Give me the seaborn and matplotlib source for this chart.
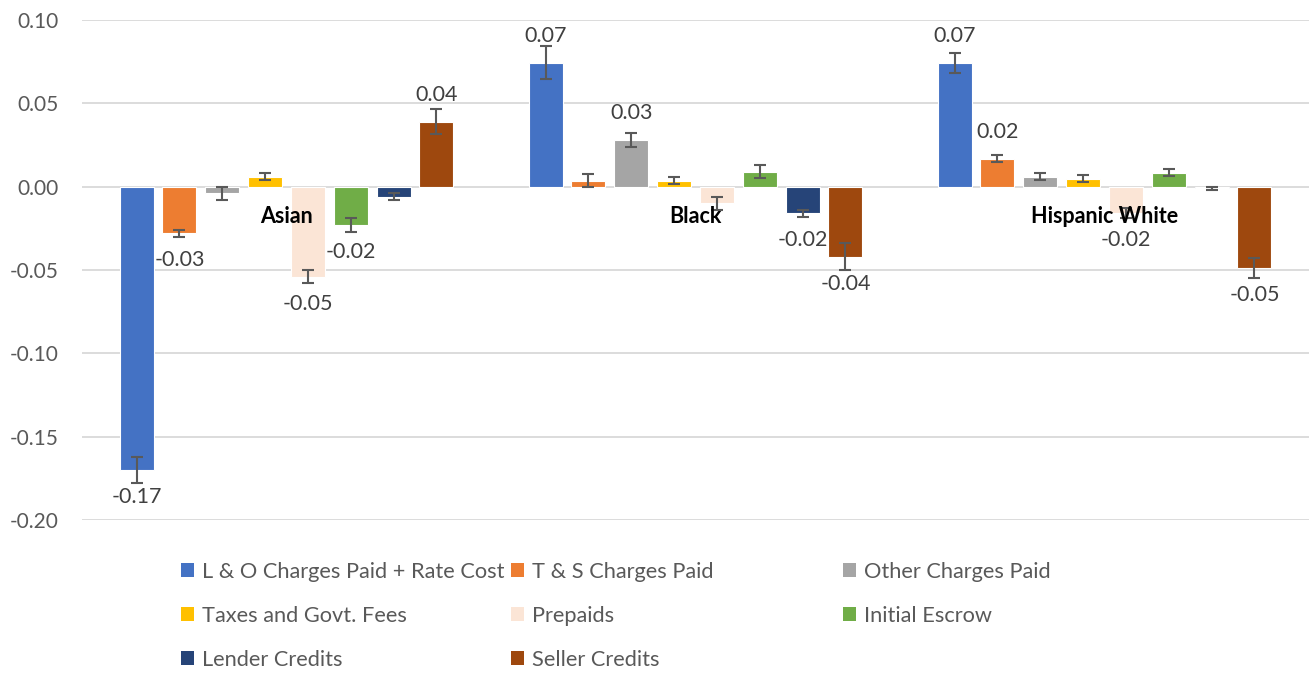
import numpy as np
import pandas as pd
import matplotlib
matplotlib.use("Agg")
import matplotlib.pyplot as plt
import seaborn as sns
from matplotlib.patches import Patch
from matplotlib.ticker import FuncFormatter

groups = ["Asian", "Black", "Hispanic White"]
series = [
    "L & O Charges Paid + Rate Cost",
    "T & S Charges Paid",
    "Other Charges Paid",
    "Taxes and Govt. Fees",
    "Prepaids",
    "Initial Escrow",
    "Lender Credits",
    "Seller Credits",
]
colors = ["#4472C4", "#ED7D31", "#A5A5A5", "#FFC000",
          "#FBE5D6", "#70AD47", "#264478", "#9E480E"]

# values per group (Asian, Black, Hispanic White)
lo_rate = [-0.170, 0.0744, 0.0744]
ts_charges = [-0.028, 0.0036, 0.0168]
other_charges = [-0.004, 0.028, 0.006]
taxes_fees = [0.006, 0.0036, 0.0048]
prepaids = [-0.054, -0.010, -0.016]
escrow = [-0.023, 0.009, 0.0084]
lender_credits = [-0.006, -0.016, -0.001]
seller_credits = [0.039, -0.042, -0.0486]

# half-width of error bars
lo_rate_err = [0.008, 0.010, 0.006]
ts_charges_err = [0.002, 0.004, 0.002]
other_charges_err = [0.004, 0.004, 0.002]
taxes_fees_err = [0.002, 0.002, 0.002]
prepaids_err = [0.004, 0.004, 0.003]
escrow_err = [0.004, 0.004, 0.002]
lender_credits_err = [0.002, 0.002, 0.001]
seller_credits_err = [0.0075, 0.008, 0.006]

# which bars carry a data label
lo_rate_lbl = [True, True, True]
ts_charges_lbl = [True, False, True]
other_charges_lbl = [False, True, False]
taxes_fees_lbl = [False, False, False]
prepaids_lbl = [True, False, True]
escrow_lbl = [True, False, False]
lender_credits_lbl = [False, True, False]
seller_credits_lbl = [True, True, True]

values = [lo_rate, ts_charges, other_charges, taxes_fees,
          prepaids, escrow, lender_credits, seller_credits]
errors = [lo_rate_err, ts_charges_err, other_charges_err, taxes_fees_err,
          prepaids_err, escrow_err, lender_credits_err, seller_credits_err]
show_lbl = [lo_rate_lbl, ts_charges_lbl, other_charges_lbl, taxes_fees_lbl,
            prepaids_lbl, escrow_lbl, lender_credits_lbl, seller_credits_lbl]

rows = []
for s, vals in zip(series, values):
    for g, v in zip(groups, vals):
        rows.append({"group": g, "series": s, "value": v})
df = pd.DataFrame(rows)

sns.set_style("white")
plt.rcParams["font.family"] = ["Lato", "DejaVu Sans"]

text_gray = "#595959"
fig = plt.figure(figsize=(13.09, 6.75), dpi=100)
ax = fig.add_axes([82 / 1309, 155 / 675, 1227 / 1309, 500 / 675])

sns.barplot(data=df, x="group", y="value", hue="series", hue_order=series,
            order=groups, palette=colors, saturation=1, errorbar=None,
            width=0.838, gap=0.207, edgecolor="white", linewidth=0.8,
            legend=False, ax=ax, zorder=2)

bar_containers = list(ax.containers)
for i, container in enumerate(bar_containers):
    for j, bar in enumerate(container):
        xc = bar.get_x() + bar.get_width() / 2
        v = values[i][j]
        ax.errorbar(xc, v, yerr=errors[i][j], color=text_gray, lw=1.5,
                    capsize=4.5, capthick=1.5, zorder=3)
        if show_lbl[i][j]:
            off = 19.5 if v > 0 else -19.5
            ax.annotate(f"{v:.2f}", (xc, v), xytext=(0, off),
                        textcoords="offset points", ha="center", va="center",
                        fontsize=15.5, color="#404040", zorder=4)

# category names sit just under the zero line, as in the source chart
for k, g in enumerate(groups):
    ax.text(k, -0.018, g, ha="center", va="center", fontsize=15.5,
            fontweight="bold", color="black", zorder=5)

ax.set_xlim(-0.5, 2.5)
ax.set_ylim(-0.20, 0.10)
ax.set_yticks(np.arange(-0.20, 0.101, 0.05))
ax.yaxis.set_major_formatter(FuncFormatter(lambda v, p: f"{v + 0.0:.2f}".replace("-0.00", "0.00")))
ax.set_xticks([])
ax.set_xlabel("")
ax.set_ylabel("")
ax.tick_params(axis="y", length=0, pad=17, labelsize=15, labelcolor=text_gray)
ax.grid(axis="y", color="#D9D9D9", lw=1.3, zorder=0)
ax.set_axisbelow(True)
sns.despine(ax=ax, left=True, bottom=True)

# legend laid out in three columns of equal width, like the original
handles = [Patch(facecolor=c, edgecolor="none") for c in colors]
col_x = [181 / 1309, 511 / 1309, 843 / 1309]
for c in range(3):
    idx = list(range(c, len(series), 3))
    leg = fig.legend([handles[i] for i in idx], [series[i] for i in idx],
                     loc="upper left", bbox_to_anchor=(col_x[c], 1 - 562 / 675),
                     frameon=False, borderpad=0, borderaxespad=0,
                     handlelength=0.6, handleheight=0.6, handletextpad=0.35,
                     labelspacing=1.1, fontsize=15.7, labelcolor=text_gray)

fig.savefig("out.png", dpi=100)
